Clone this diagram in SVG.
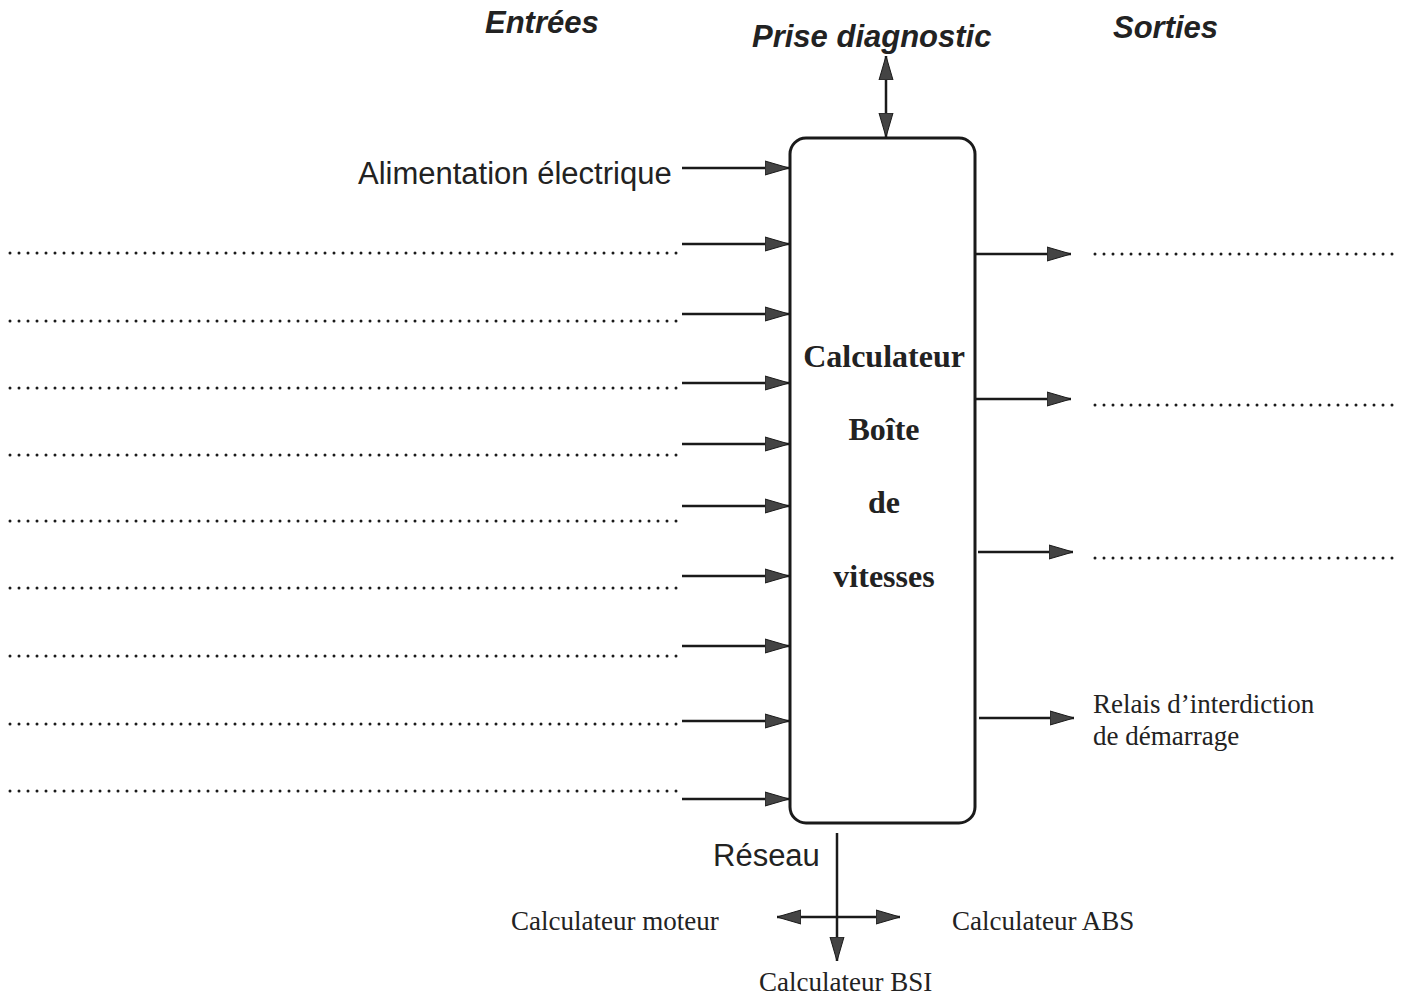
<svg xmlns="http://www.w3.org/2000/svg" width="1403" height="996" viewBox="0 0 1403 996">
<style>
.ln{stroke:#1a1a1a;stroke-width:2.5;fill:none}
.dot{stroke:#1a1a1a;stroke-width:3;stroke-linecap:round;stroke-dasharray:0 9;fill:none}
.hd{font-family:"Liberation Sans",Arial,sans-serif;font-weight:bold;font-style:italic;font-size:31px;fill:#222}
.sans{font-family:"Liberation Sans",Arial,sans-serif;font-size:31px;fill:#222}
.ser{font-family:"Liberation Serif","Times New Roman",serif;font-size:27px;fill:#222}
.box{font-family:"Liberation Serif","Times New Roman",serif;font-weight:bold;font-size:32px;fill:#222;text-anchor:middle}
</style>
<defs>
<marker id="ah" markerUnits="userSpaceOnUse" markerWidth="24" markerHeight="16" refX="24" refY="8" orient="auto-start-reverse">
<path d="M0,1 L24,8 L0,15 Z" fill="#444" stroke="#1a1a1a" stroke-width="1"/>
</marker>
</defs>
<rect width="1403" height="996" fill="#fff"/>
<g id="titles">
<text class="hd" x="485" y="33">Entrées</text>
<text class="hd" x="752" y="47" font-size="32">Prise diagnostic</text>
<text class="hd" x="1113" y="38" font-size="32">Sorties</text>
</g>
<g id="calculateur">
<rect x="790" y="138" width="185" height="685" rx="16" fill="none" stroke="#1a1a1a" stroke-width="3"/>
<text class="box" x="884" y="367">Calculateur</text>
<text class="box" x="884" y="440">Boîte</text>
<text class="box" x="884" y="513">de</text>
<text class="box" x="884" y="587">vitesses</text>
</g>
<g id="labels">
<text class="sans" x="358" y="184">Alimentation électrique</text>
<text class="ser" x="1093" y="713">Relais d’interdiction</text>
<text class="ser" x="1093" y="745">de démarrage</text>
<text class="sans" x="713" y="866" font-size="32">Réseau</text>
<text class="ser" x="511" y="930">Calculateur moteur</text>
<text class="ser" x="952" y="930">Calculateur ABS</text>
<text class="ser" x="759" y="991">Calculateur BSI</text>
</g>
<g id="dotted">
<path class="dot" d="M10,253H682M10,321H682M10,388H682M10,455H682M10,521H682M10,588H682M10,656H682M10,724H682M10,791H682"/>
<path class="dot" d="M1095,254H1398M1095,405H1398M1095,558H1398"/>
</g>
<g id="connectors">
<line class="ln" x1="886" y1="56" x2="886" y2="137" marker-start="url(#ah)" marker-end="url(#ah)"/>
<line class="ln" x1="682" y1="168" x2="789" y2="168" marker-end="url(#ah)"/>
<line class="ln" x1="682" y1="244" x2="789" y2="244" marker-end="url(#ah)"/>
<line class="ln" x1="682" y1="314" x2="789" y2="314" marker-end="url(#ah)"/>
<line class="ln" x1="682" y1="383" x2="789" y2="383" marker-end="url(#ah)"/>
<line class="ln" x1="682" y1="444" x2="789" y2="444" marker-end="url(#ah)"/>
<line class="ln" x1="682" y1="506" x2="789" y2="506" marker-end="url(#ah)"/>
<line class="ln" x1="682" y1="576" x2="789" y2="576" marker-end="url(#ah)"/>
<line class="ln" x1="682" y1="646" x2="789" y2="646" marker-end="url(#ah)"/>
<line class="ln" x1="682" y1="721" x2="789" y2="721" marker-end="url(#ah)"/>
<line class="ln" x1="682" y1="799" x2="789" y2="799" marker-end="url(#ah)"/>
<line class="ln" x1="975" y1="254" x2="1071" y2="254" marker-end="url(#ah)"/>
<line class="ln" x1="975" y1="399" x2="1071" y2="399" marker-end="url(#ah)"/>
<line class="ln" x1="978" y1="552" x2="1073" y2="552" marker-end="url(#ah)"/>
<line class="ln" x1="979" y1="718" x2="1074" y2="718" marker-end="url(#ah)"/>
<line class="ln" x1="837" y1="833" x2="837" y2="961" stroke-width="3" marker-end="url(#ah)"/>
<line class="ln" x1="777" y1="917" x2="900" y2="917" marker-start="url(#ah)" marker-end="url(#ah)"/>
</g>
</svg>
